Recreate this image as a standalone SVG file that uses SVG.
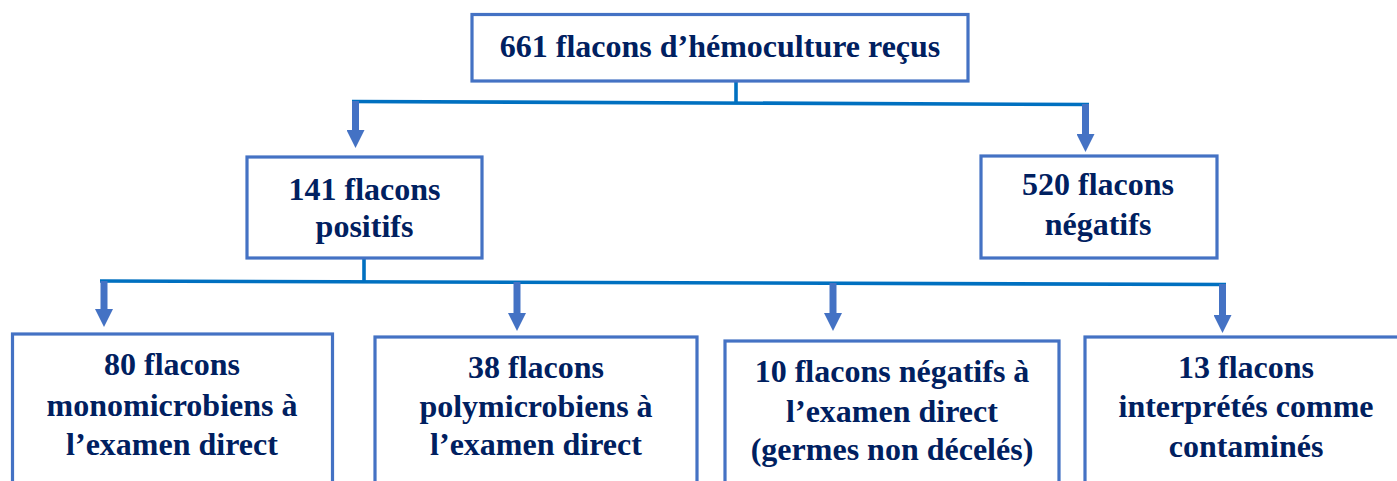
<svg xmlns="http://www.w3.org/2000/svg" width="1397" height="481" viewBox="0 0 1397 481">
<defs>
<style>
.box{fill:#ffffff;stroke:#4472C4;stroke-width:3.2}
.t{font-family:"Liberation Serif","Times New Roman",serif;font-weight:bold;font-size:32px;fill:#002060;text-anchor:middle}
.bus{fill:none;stroke:#0070C0;stroke-width:3.6}
.arr{fill:none;stroke:#4472C4;stroke-width:7}
</style>
<marker id="ah" markerUnits="userSpaceOnUse" markerWidth="18" markerHeight="18" viewBox="0 0 18 18" refX="0" refY="9" orient="auto">
<path d="M0,0 L18,9 L0,18 z" fill="#4472C4"/>
</marker>
</defs>
<rect width="1397" height="481" fill="#ffffff"/>
<g id="connectors">
<line class="bus" x1="736" y1="81" x2="736" y2="103"/>
<line class="bus" x1="352" y1="101.5" x2="1089" y2="104.5"/>
<line class="arr" x1="355.5" y1="101" x2="355.5" y2="130" marker-end="url(#ah)"/>
<line class="arr" x1="1085.5" y1="104" x2="1085.5" y2="134" marker-end="url(#ah)"/>
<line class="bus" x1="364" y1="258" x2="364" y2="282"/>
<line class="bus" x1="100" y1="281" x2="1226" y2="284.5"/>
<line class="arr" x1="104" y1="281" x2="104" y2="309" marker-end="url(#ah)"/>
<line class="arr" x1="517" y1="282" x2="517" y2="313" marker-end="url(#ah)"/>
<line class="arr" x1="833" y1="283" x2="833" y2="313" marker-end="url(#ah)"/>
<line class="arr" x1="1222.5" y1="284" x2="1222.5" y2="315" marker-end="url(#ah)"/>
</g>
<g id="n-total">
<rect class="box" x="472" y="14.5" width="496" height="66.5"/>
<text class="t" x="720" y="57">661 flacons d’hémoculture reçus</text>
</g>
<g id="n-positifs">
<rect class="box" x="247" y="157" width="235" height="101"/>
<text class="t" x="364.5" y="200">141 flacons</text>
<text class="t" x="364.5" y="237">positifs</text>
</g>
<g id="n-negatifs">
<rect class="box" x="981" y="156" width="236" height="102"/>
<text class="t" x="1098" y="195">520 flacons</text>
<text class="t" x="1098" y="235">négatifs</text>
</g>
<g id="n-mono">
<rect class="box" x="12.5" y="334" width="320" height="200"/>
<text class="t" x="172" y="375">80 flacons</text>
<text class="t" x="172" y="416">monomicrobiens à</text>
<text class="t" x="172" y="455">l’examen direct</text>
</g>
<g id="n-poly">
<rect class="box" x="375" y="337" width="322" height="200"/>
<text class="t" x="536" y="378">38 flacons</text>
<text class="t" x="536" y="417">polymicrobiens à</text>
<text class="t" x="536" y="455">l’examen direct</text>
</g>
<g id="n-neg-direct">
<rect class="box" x="725" y="341" width="334" height="200"/>
<text class="t" x="892" y="382">10 flacons négatifs à</text>
<text class="t" x="892" y="422">l’examen direct</text>
<text class="t" x="892" y="460">(germes non décelés)</text>
</g>
<g id="n-contamines">
<rect class="box" x="1085" y="337" width="330" height="200"/>
<text class="t" x="1246" y="378">13 flacons</text>
<text class="t" x="1246" y="417">interprétés comme</text>
<text class="t" x="1246" y="457">contaminés</text>
</g>
</svg>
